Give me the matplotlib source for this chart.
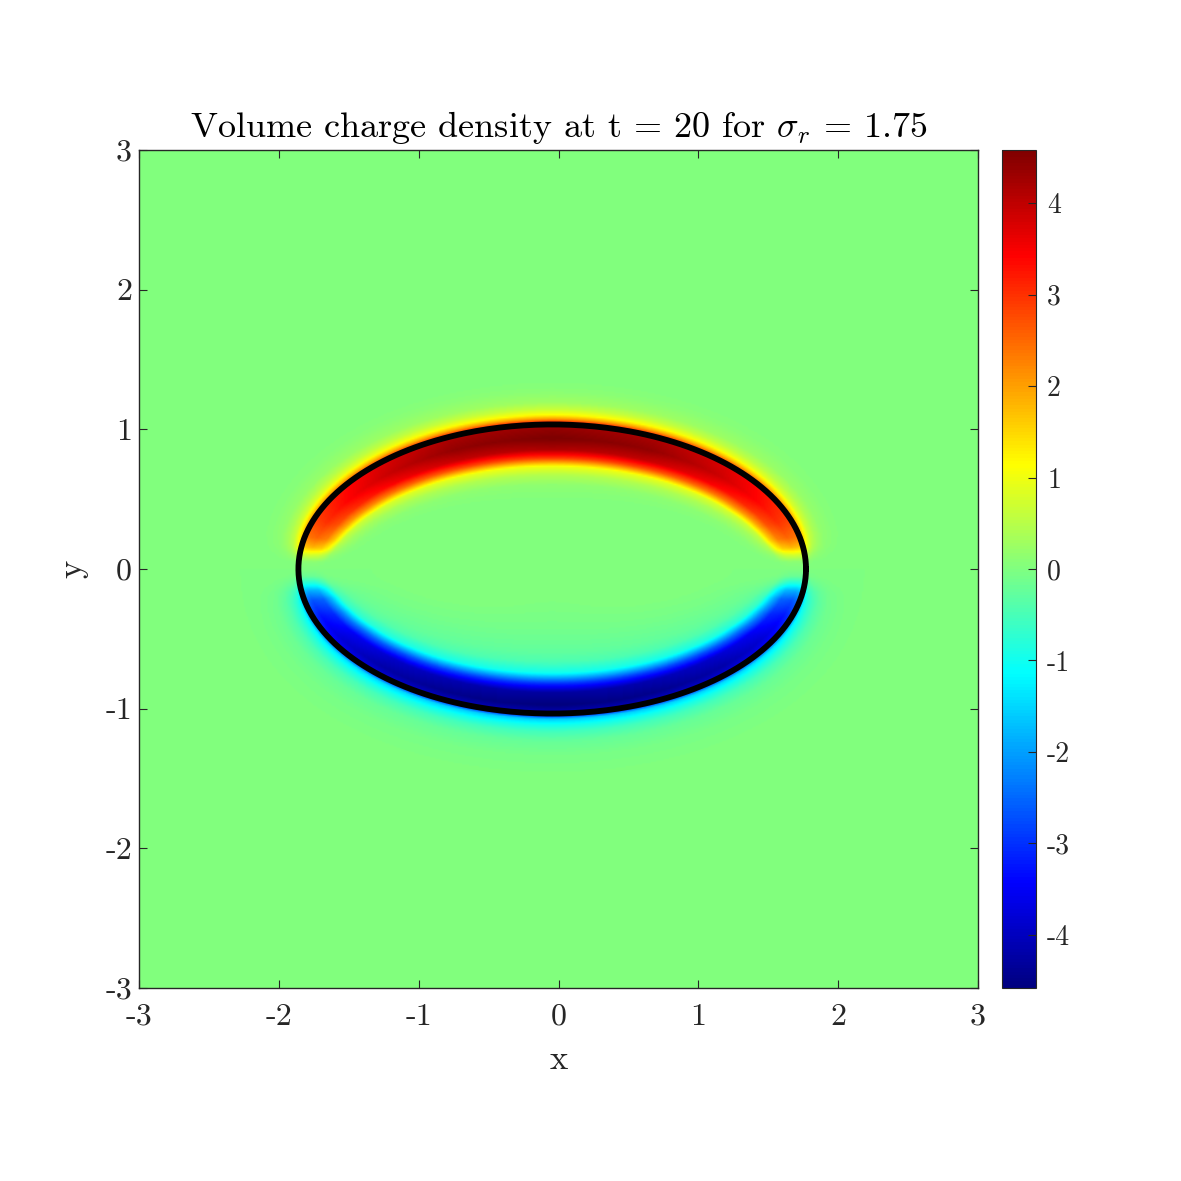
import numpy as np
import matplotlib.pyplot as plt
from matplotlib.colors import LinearSegmentedColormap

# drop outline (ellipse)
drop_xc = -0.045
drop_yc = 0.0
drop_a = 1.815
drop_b = 1.035

# colour limits of the colour bar
c_lim = 4.58

# charge amplitude along the interface, by elliptic angle folded to 0..90 deg
phi_deg = [0, 3, 6, 9, 13, 20, 30, 45, 65, 90]
amp_up = [0.0, 0.1, 0.8, 1.8, 2.5, 3.0, 3.4, 3.9, 4.4, 4.6]
amp_low = [0.0, -0.2, -0.9, -1.9, -2.7, -3.3, -3.8, -4.2, -4.45, -4.6]
# relative band width along the interface
band_w = [0.65, 0.67, 0.72, 0.78, 0.85, 0.92, 0.98, 1.0, 1.0, 1.0]

# normalised profile across the interface (distance, + outside)
dist_up = [-0.60, -0.50, -0.43, -0.36, -0.30, -0.24, -0.18, -0.10, -0.02, 0.0, 0.04, 0.07, 0.11, 0.16, 0.24, 0.34]
prof_up = [0.0, 0.01, 0.03, 0.10, 0.22, 0.63, 0.90, 1.0, 0.95, 0.85, 0.45, 0.25, 0.14, 0.06, 0.02, 0.0]
dist_low = [-0.80, -0.62, -0.52, -0.44, -0.37, -0.29, -0.215, -0.15, -0.06, 0.0, 0.04, 0.08, 0.13, 0.20, 0.30, 0.42]
prof_low = [0.0, 0.02, 0.04, 0.06, 0.10, 0.22, 0.65, 0.93, 1.0, 0.88, 0.35, 0.22, 0.12, 0.05, 0.015, 0.0]

x_ticks = [-3, -2, -1, 0, 1, 2, 3]
cb_ticks = [-4, -3, -2, -1, 0, 1, 2, 3, 4]

# MATLAB style jet
matlab_jet = LinearSegmentedColormap('matlab_jet', {
    'red': [(0, 0, 0), (3/8, 0, 0), (5/8, 1, 1), (7/8, 1, 1), (1, 0.5, 0.5)],
    'green': [(0, 0, 0), (1/8, 0, 0), (3/8, 1, 1), (5/8, 1, 1), (7/8, 0, 0), (1, 0, 0)],
    'blue': [(0, 0.5, 0.5), (1/8, 1, 1), (3/8, 1, 1), (5/8, 0, 0), (1, 0, 0)],
}, N=256)

# build the field on a grid
n = 600
gx = np.linspace(-3, 3, n)
X, Y = np.meshgrid(gx, gx)
u = (X - drop_xc) / drop_a
v = (Y - drop_yc) / drop_b
s = np.sqrt(u**2 + v**2) + 1e-9
grad = np.sqrt((u / drop_a)**2 + (v / drop_b)**2) / s
d = (s - 1) / grad
th = np.degrees(np.arctan2(v, u))
phi = np.minimum(np.abs(th), 180 - np.abs(th))
w = np.interp(phi, phi_deg, band_w)
dd = np.where(d < 0, d / w, d)

field = np.where(
    th >= 0,
    np.interp(phi, phi_deg, amp_up) * np.interp(dd, dist_up, prof_up, left=0, right=0),
    np.interp(phi, phi_deg, amp_low) * np.interp(dd, dist_low, prof_low, left=0, right=0),
)

plt.rcParams['font.family'] = 'cmr10'
plt.rcParams['mathtext.fontset'] = 'cm'
plt.rcParams['axes.unicode_minus'] = False

fig = plt.figure(figsize=(11.81, 11.81), dpi=100)
ax = fig.add_axes([139/1181, 1 - 988/1181, 839/1181, 838/1181])
cax = fig.add_axes([1002/1181, 1 - 988/1181, 34/1181, 838/1181])

im = ax.imshow(field, extent=[-3, 3, -3, 3], origin='lower', cmap=matlab_jet,
               vmin=-c_lim, vmax=c_lim, interpolation='bilinear', aspect='auto')

t = np.linspace(0, 2 * np.pi, 400)
ax.plot(drop_xc + drop_a * np.cos(t), drop_yc + drop_b * np.sin(t), color='black', lw=4.2)

ax.set_xlim(-3, 3)
ax.set_ylim(-3, 3)
ax.set_xticks(x_ticks)
ax.set_yticks(x_ticks)
ax.set_xticklabels([str(k) for k in x_ticks])
ax.set_yticklabels([str(k) for k in x_ticks])
ax.tick_params(direction='in', length=6, width=0.8, colors='#262626', labelsize=23,
               top=True, right=True, labelcolor='#262626')
ax.tick_params(axis='x', pad=11)
ax.tick_params(axis='y', pad=5)
for sp in ax.spines.values():
    sp.set_color('#262626')
    sp.set_linewidth(1.0)
ax.set_xlabel('x', fontsize=25, color='#262626', labelpad=10)
ax.set_ylabel('y', fontsize=25, color='#262626', labelpad=12)
ax.set_title(r'Volume charge density at t = 20 for $\sigma_r$ = 1.75', fontsize=26, pad=9)

cb = fig.colorbar(im, cax=cax)
cb.set_ticks(cb_ticks)
cb.set_ticklabels([str(k) for k in cb_ticks])
cax.tick_params(direction='in', length=6, width=0.8, colors='#262626', labelsize=20,
                labelcolor='#262626', pad=8)
cb.outline.set_edgecolor('#262626')

fig.savefig('out.png', dpi=100)
